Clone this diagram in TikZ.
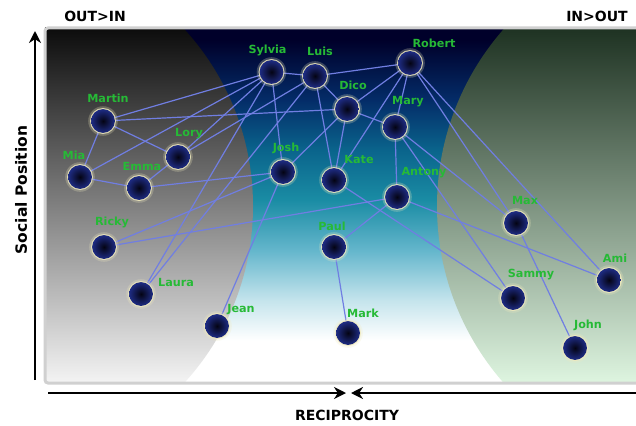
\documentclass[tikz,border=0pt]{standalone}
\usepackage{fontspec}
\setmainfont{DejaVu Sans}
\usetikzlibrary{arrows.meta}

\definecolor{skynavy}{RGB}{0,0,42}
\definecolor{skydeep}{RGB}{4,44,104}
\definecolor{skymid}{RGB}{10,100,140}
\definecolor{skyteal}{RGB}{26,140,164}
\definecolor{skysoft}{RGB}{100,182,204}
\definecolor{skypale}{RGB}{196,228,236}
\definecolor{graytop}{RGB}{12,12,12}
\definecolor{graybottom}{RGB}{244,244,244}
\definecolor{greentop}{RGB}{30,50,34}
\definecolor{greenbottom}{RGB}{222,245,224}
\definecolor{framegray}{RGB}{208,208,208}
\definecolor{linkblue}{RGB}{112,126,226}
\definecolor{namegreen}{RGB}{38,186,54}
\definecolor{haloglow}{RGB}{240,234,190}
\definecolor{balldark}{RGB}{4,4,20}
\definecolor{ballrim}{RGB}{30,44,132}

\pgfdeclareverticalshading{skyfade}{100bp}{color(0bp)=(white); color(25bp)=(white);
  color(31bp)=(white); color(36.7bp)=(skypale); color(43.7bp)=(skysoft);
  color(50.8bp)=(skyteal); color(57.8bp)=(skymid); color(64.9bp)=(skydeep);
  color(73.3bp)=(skynavy); color(100bp)=(skynavy)}

\tikzset{
  link/.style={draw=linkblue, line width=1.2pt},
  ball/.style={inner color=balldark, outer color=ballrim},
  tagtext/.style={text=namegreen, font=\bfseries\fontsize{11.2}{11.2}\selectfont, inner sep=0pt},
  axistext/.style={font=\bfseries\fontsize{14}{14}\selectfont, inner sep=0pt},
  axisline/.style={line width=2.5pt, black}
}

\begin{document}
\begin{tikzpicture}[x=1pt,y=-1pt]
\useasboundingbox (0,0) rectangle (636,425);

% plot area
\shade[shading=skyfade] (45,28) rectangle (660,383);
\begin{scope}
  \clip (-9,206) circle (262pt);
  \shade[top color=graytop, bottom color=graybottom] (45,28) rectangle (660,383);
\end{scope}
\begin{scope}
  \clip (705,206) circle (268pt);
  \shade[top color=greentop, bottom color=greenbottom] (45,28) rectangle (660,383);
\end{scope}
\draw[framegray, line width=3pt, rounded corners=3pt] (45,28) rectangle (660,383);

% people
\foreach \n/\x/\y in {Sylvia/271.5/72, Luis/315/76, Robert/410/63, Dico/347/109,
    Mary/395/127, Martin/103/121, Lory/178/157, Mia/80/177, Emma/139/188,
    Josh/283/172, Kate/334/180, Antony/397/197, Max/516/223, Ricky/104/247,
    Paul/334/247, Ami/609/280, Sammy/513/298, Laura/141/294, Jean/217/326,
    Mark/348/333, John/575/348}
    \coordinate (\n) at (\x,\y);

\foreach \a/\b in {Martin/Sylvia, Martin/Dico, Martin/Lory, Martin/Mia,
    Mia/Sylvia, Mia/Emma, Lory/Sylvia, Lory/Luis, Lory/Emma, Emma/Josh,
    Ricky/Josh, Ricky/Antony, Laura/Sylvia, Laura/Luis, Jean/Josh,
    Sylvia/Luis, Sylvia/Josh, Luis/Robert, Luis/Dico, Luis/Kate,
    Robert/Dico, Robert/Mary, Robert/Kate, Robert/Max, Robert/Ami,
    Dico/Mary, Dico/Kate, Dico/Josh, Mary/Antony, Mary/Max, Mary/Sammy,
    Kate/Sammy, Antony/Paul, Antony/Ami, Paul/Mark, Max/John}
    \draw[link] (\a) -- (\b);

\foreach \n in {Sylvia, Luis, Robert, Dico, Mary, Martin, Lory, Mia, Emma, Josh,
    Kate, Antony, Max, Ricky, Paul, Ami, Sammy, Laura, Jean, Mark, John}
{
    \fill[haloglow, opacity=0.25] (\n) circle (14.8pt);
    \fill[haloglow, opacity=0.85] (\n) circle (13pt);
    \shade[ball] (\n) circle (11.9pt);
}

\foreach \n/\dx/\dy in {Sylvia/-4/-22, Luis/5/-25, Robert/24/-20, Dico/6/-24,
    Mary/13/-25, Martin/5/-23, Lory/11/-23, Mia/-6/-22, Emma/3/-22,
    Josh/3/-24, Kate/25/-21, Antony/27/-24, Max/9/-23, Ricky/8/-25,
    Paul/-2/-21, Ami/6/-22, Sammy/18/-23, Laura/35/-12, Jean/24/-16,
    Mark/15/-20, John/13/-23}
    \node[tagtext] (\n-tag) at ([shift={(\dx,\dy)}]\n) {\n};

% axes
\coordinate (yfoot) at (35,380);
\coordinate (ytip) at (35,31);
\draw[axisline, -{Stealth[length=12pt,width=12pt]}] (yfoot) -- (ytip);

\coordinate (xleft) at (48,393);
\coordinate (xright) at (640,393);
\coordinate (xmeetl) at (346,393);
\coordinate (xmeetr) at (351,393);
\draw[axisline, -{Stealth[length=12pt,width=12pt]}] (xleft) -- (xmeetl);
\draw[axisline, -{Stealth[length=12pt,width=12pt]}] (xright) -- (xmeetr);

\node[axistext] (outin) at (95,16) {OUT>IN};
\node[axistext] (inout) at (597,16) {IN>OUT};
\node[axistext, rotate=90, font=\bfseries\fontsize{15.5}{15.5}\selectfont] (social) at (21,190) {Social Position};
\node[axistext] (recip) at (347,415.5) {RECIPROCITY};

\end{tikzpicture}
\end{document}
